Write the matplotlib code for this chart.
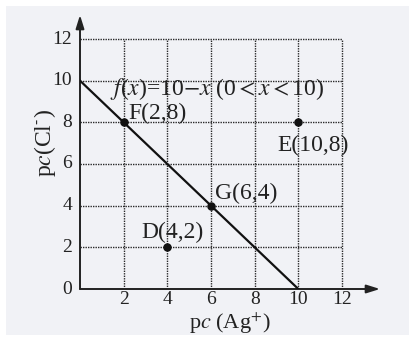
import matplotlib
matplotlib.use('Agg')
import matplotlib.pyplot as plt
from matplotlib.patches import Rectangle

plt.rcParams['font.family'] = ['Liberation Serif', 'DejaVu Serif']
plt.rcParams['mathtext.fontset'] = 'stix'

# 图中数据
ticks = [2, 4, 6, 8, 10, 12]
y_ticks = [0, 2, 4, 6, 8, 10, 12]
line_x = [0, 10]
line_y = [10, 0]
points = ['F', 'G', 'D', 'E']
px = [2, 6, 4, 10]
py = [8, 4, 2, 8]
# 标签位置 (数据坐标)
label_pos = [(2.2, 8.45), (6.18, 4.6), (2.8, 2.7), (9.02, 6.9)]

W, H = 409, 340
fig = plt.figure(figsize=(W / 100, H / 100), dpi=100)
fig.patch.set_facecolor('white')
fig.patches.append(Rectangle((6 / W, 5 / H), 1, 1 - 11 / H, transform=fig.transFigure,
                             facecolor='#f1f2f6', edgecolor='none', zorder=-10))

# 坐标轴位置: 原点在 (80, 289) 像素处
x0, y0 = 80, H - 289
ux = (342 - 80) / 12
uy = (289 - 39) / 12
x_end, y_end = 380, H - 15
ax = fig.add_axes([x0 / W, y0 / H, (x_end - x0) / W, (y_end - y0) / H])
ax.set_xlim(0, (x_end - x0) / ux)
ax.set_ylim(0, (y_end - y0) / uy)
ax.set_facecolor('none')
for s in ax.spines.values():
    s.set_visible(False)
ax.set_xticks([])
ax.set_yticks([])

# 网格 (虚线)
for v in ticks:
    ax.plot([v, v], [0, 12], color='#2a2a2a', lw=1.0, ls=(0, (1.0, 0.8)), zorder=1)
    ax.plot([0, 12], [v, v], color='#2a2a2a', lw=1.0, ls=(0, (1.0, 0.8)), zorder=1)

# 坐标轴箭头
xmax, ymax = ax.get_xlim()[1], ax.get_ylim()[1]
ax.annotate('', xy=(xmax, 0), xytext=(0, 0),
            arrowprops=dict(arrowstyle='-|>,head_length=0.8,head_width=0.25', color='#222222', lw=1.4, shrinkA=0, shrinkB=0))
ax.annotate('', xy=(0, ymax), xytext=(0, 0),
            arrowprops=dict(arrowstyle='-|>,head_length=0.8,head_width=0.25', color='#222222', lw=1.4, shrinkA=0, shrinkB=0))

# 刻度标签
for v in ticks:
    ax.text(v, -0.5, str(v), ha='center', va='center', fontsize=14, color='#222222')
for v in y_ticks:
    ax.text(-0.37, v, str(v), ha='right', va='center', fontsize=14, color='#222222')

# f(x)=10-x
ax.plot(line_x, line_y, color='#111111', lw=1.6, zorder=3)
ax.scatter(px, py, s=26, color='#111111', zorder=4)

for name, x, y, (lx, ly) in zip(points, px, py, label_pos):
    ax.text(lx, ly, f'{name}({x},{y})', ha='left', va='center', fontsize=17, color='#222222')

ax.text(1.37, 9.6, r'$f$($x$)=10$-$$x$ (0$<$$x$$<$10)', ha='left', va='center',
        fontsize=17, color='#222222')

# 轴标题
fig.text(230 / W, 1 - 323 / H, r'p$c$ (Ag$^{+}$)', ha='center', va='center', fontsize=16, color='#222222')
fig.text(45 / W, 1 - 143 / H, r'p$c$(Cl$^{\text{-}}$)', ha='center', va='center', fontsize=17,
         color='#222222', rotation=90)

fig.savefig('out.png', dpi=100, facecolor=fig.get_facecolor())
